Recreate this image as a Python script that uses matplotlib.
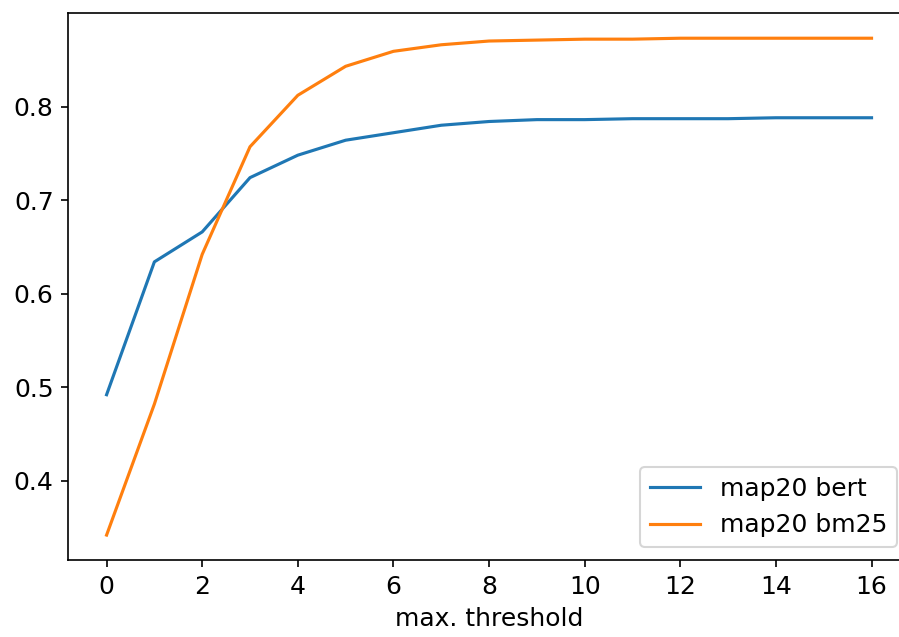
import matplotlib
matplotlib.use('Agg')
import matplotlib.pyplot as plt

# thresholds and scores
thresholds = list(range(17))
map20_bert = [0.492, 0.634, 0.666, 0.724, 0.748, 0.764, 0.772, 0.780, 0.784,
              0.786, 0.786, 0.787, 0.787, 0.787, 0.788, 0.788, 0.788]
map20_bm25 = [0.342, 0.482, 0.642, 0.757, 0.812, 0.843, 0.859, 0.866, 0.870,
              0.871, 0.872, 0.872, 0.873, 0.873, 0.873, 0.873, 0.873]

plt.rcParams['font.size'] = 12

fig, ax = plt.subplots(figsize=(899 / 150, 637 / 150), dpi=150)
ax.plot(thresholds, map20_bert, label='map20 bert')
ax.plot(thresholds, map20_bm25, label='map20 bm25')
ax.set_xlabel('max. threshold')
ax.set_xticks(range(0, 17, 2))
ax.legend(loc='lower right')
# the original image is cropped on the right, so the axes run past the edge
fig.subplots_adjust(left=0.076, right=1.012, top=0.979, bottom=0.121)
fig.savefig('out.png', dpi=150)
